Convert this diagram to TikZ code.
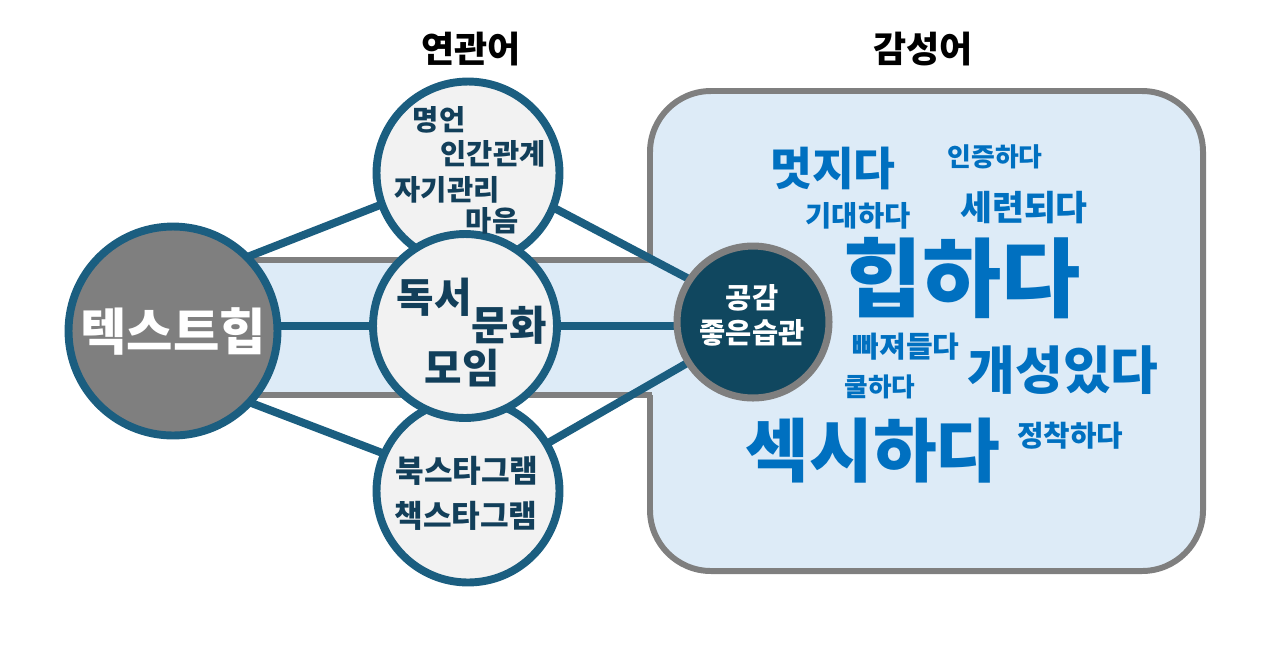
\documentclass[tikz,border=0pt]{standalone}
\usepackage{fontspec}
\setmainfont{Noto Sans CJK KR}
\definecolor{linkblue}{HTML}{1B5E80}
\definecolor{inkblue}{HTML}{123F5A}
\definecolor{hubgray}{HTML}{7F7F7F}
\definecolor{framegray}{HTML}{7F7F7F}
\definecolor{paleblue}{HTML}{DDEBF7}
\definecolor{ballgray}{HTML}{F2F2F2}
\definecolor{coreblue}{HTML}{10475F}
\definecolor{wordblue}{HTML}{0070C0}
\pgfdeclarelayer{bg}
\pgfdeclarelayer{links}
\pgfsetlayers{bg,links,main}

\begin{document}
\begin{tikzpicture}[x=0.02cm,y=-0.02cm,
  ball/.style={circle,draw=linkblue,line width=4.5pt,fill=ballgray,inner sep=0pt,outer sep=0pt,minimum size=#1},
  link/.style={draw=linkblue,line width=4.5pt},
  tag/.style={font=\bfseries\fontsize{#1pt}{#1pt}\selectfont,text=inkblue,inner sep=0pt},
  word/.style={font=\bfseries\fontsize{#1pt}{#1pt}\selectfont,text=wordblue,inner sep=0pt},
  head/.style={font=\bfseries\fontsize{20.5pt}{20.5pt}\selectfont,text=black,inner sep=0pt}]
\useasboundingbox (0,0) rectangle (1280,657);

\begin{pgfonlayer}{bg}
\draw[framegray,line width=3.4pt,fill=paleblue,rounded corners=1.22cm] (650,91) rectangle (1203,571); %emotion box
\fill[paleblue] (200,260) rectangle (654,395); %band
\draw[framegray,line width=3.4pt] (200,260) -- (652,260) (200,395) -- (652,395);
\end{pgfonlayer}

\node[ball=3.66cm] (top) at (468,173) {};
\node[ball=3.66cm] (bot) at (468,491) {};
\node[ball=3.68cm] (mid) at (465,326) {};
\node[ball=4.18cm,fill=hubgray,text=white,font=\bfseries\fontsize{28.7pt}{28.7pt}\selectfont] (hub) at (173,331) {텍스트힙};
\node[circle,draw=framegray,line width=4pt,fill=coreblue,inner sep=0pt,outer sep=0pt,minimum size=3.04cm] (core) at (753,322) {};

\begin{pgfonlayer}{links}
\draw[link] (hub.45) -- (top.200);
\draw[link] (mid -| hub) -- (mid -| core);
\draw[link] (hub.317) -- (bot.156);
\draw[link] (top.338) -- (core.146);
\draw[link] (bot.31) -- (core.212);
\end{pgfonlayer}

\node[head] (relhead) at (471,49) {연관어};
\node[head] (emohead) at (923,49) {감성어};

\node[tag=16.2] (myeongeon) at (439,120) {명언};
\node[tag=16.2] (ingan) at (493,154) {인간관계};
\node[tag=16.2] (jagi) at (447,190) {자기관리};
\node[tag=16.2] (maeum) at (492,221) {마음};

\node[tag=23.2] (dokseo) at (434,297) {독서};
\node[tag=23.2] (munhwa) at (509,325) {문화};
\node[tag=23.2] (moim) at (462,368) {모임};

\node[tag=17.7] (book) at (467,471) {북스타그램};
\node[tag=17.7] (chaek) at (466,516) {책스타그램};

\node[tag=16.2,text=white] (gonggam) at (752,298) {공감};
\node[tag=16.2,text=white] (seupgwan) at (752,333) {좋은습관};

\node[word=25.9] (meotjida) at (833,168) {멋지다};
\node[word=14.7] (injeung) at (995,157) {인증하다};
\node[word=16.2] (gidae) at (858,216) {기대하다};
\node[word=19.7] (seryeon) at (1024,208) {세련되다};
\node[word=49] (hip) at (962,278) {힙하다};
\node[word=16.5] (ppajyeo) at (906,347) {빠져들다};
\node[word=29.5] (gaeseong) at (1063,370) {개성있다};
\node[word=14.6] (kul) at (880,387) {쿨하다};
\node[word=39.4] (sexy) at (873,451) {섹시하다};
\node[word=16.4] (jeongchak) at (1070,436) {정착하다};
\end{tikzpicture}
\end{document}
